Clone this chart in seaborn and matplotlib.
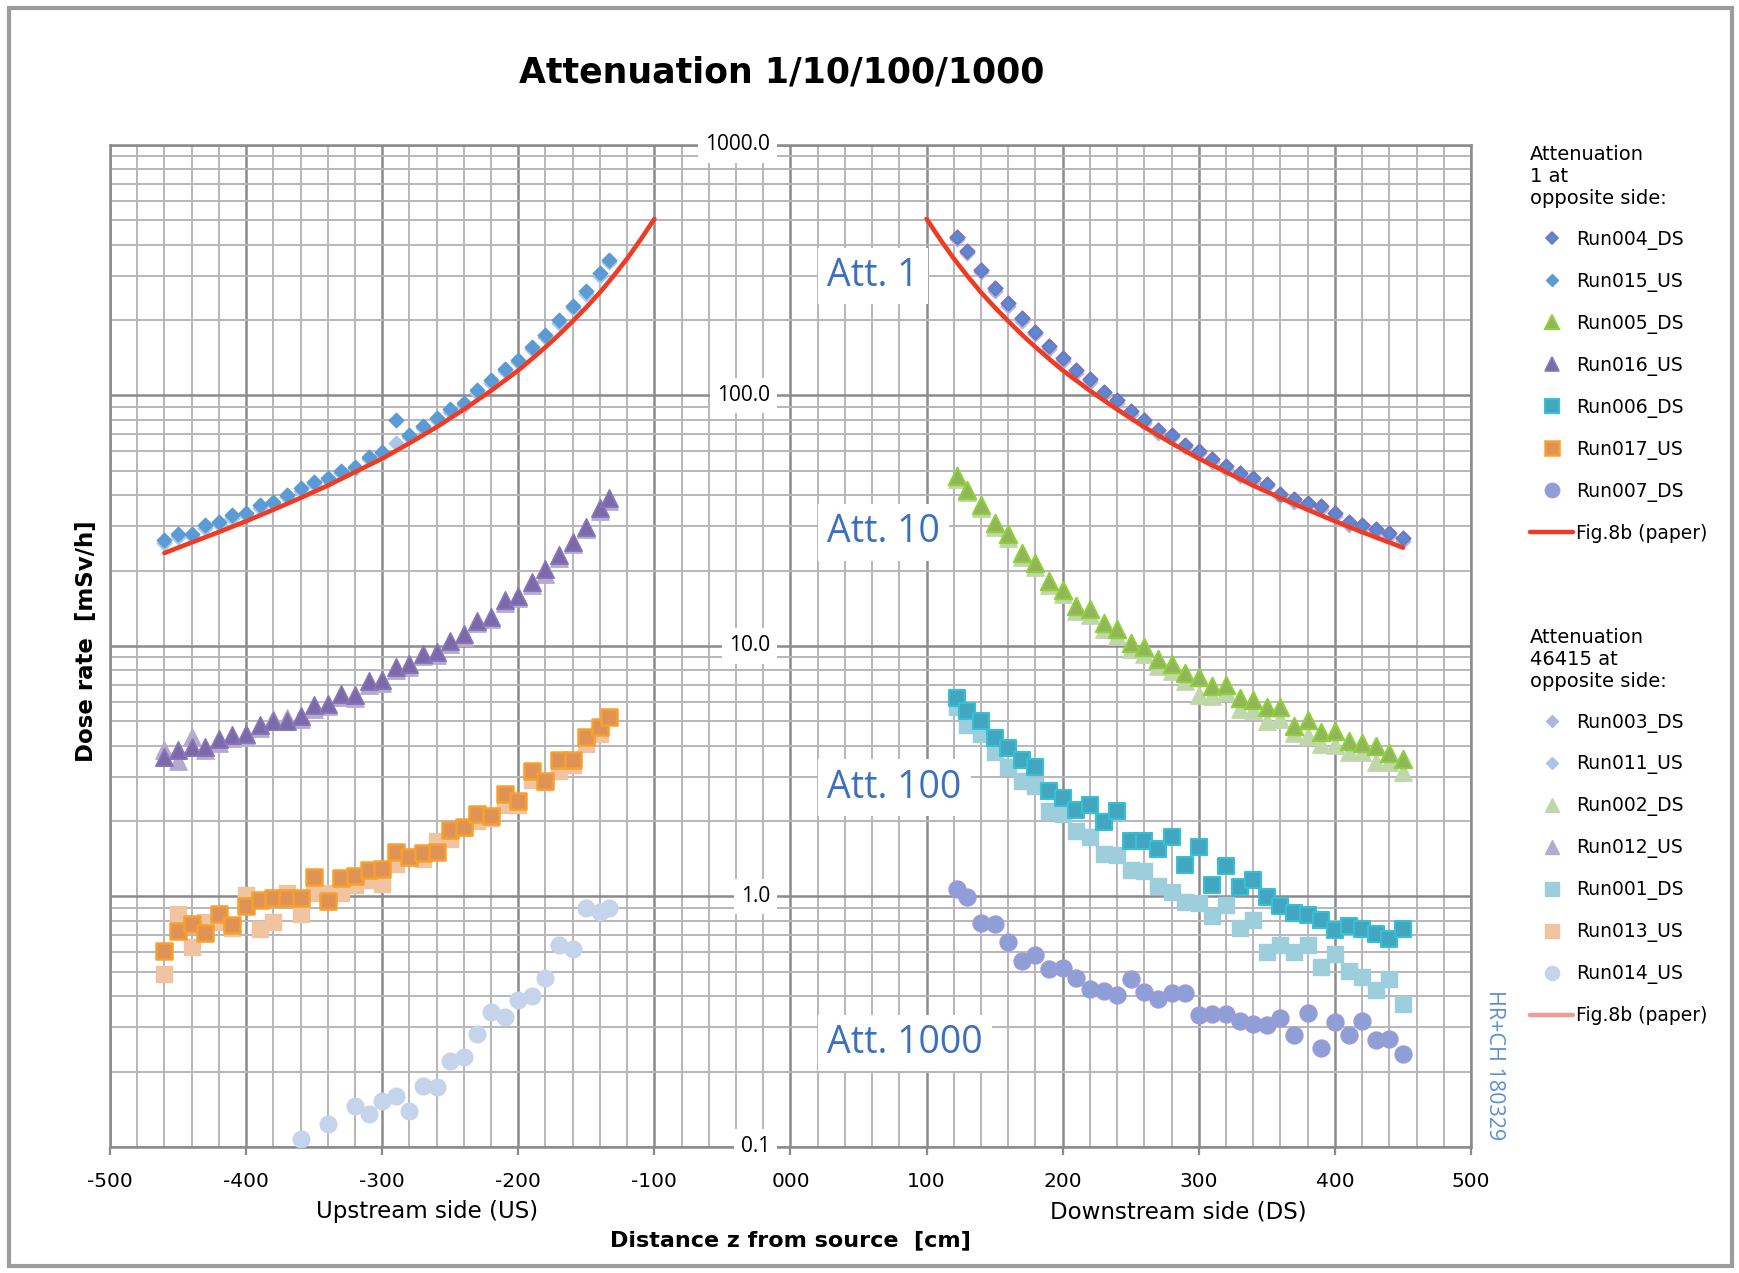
import matplotlib
matplotlib.use("Agg")
import matplotlib.pyplot as plt
import seaborn as sns
from matplotlib.lines import Line2D
from matplotlib.patches import Rectangle
from matplotlib.ticker import FixedLocator, LogLocator, NullFormatter

# ---------------------------------------------------------------- data
# distances from the source [cm]
z_us = [-460, -450, -440, -430, -420, -410, -400, -390, -380, -370, -360, -350,
        -340, -330, -320, -310, -300, -290, -280, -270, -260, -250, -240, -230,
        -220, -210, -200, -190, -180, -170, -160, -150, -140, -133]
z_ds = [122, 130, 140, 150, 160, 170, 180, 190, 200, 210, 220, 230, 240, 250,
        260, 270, 280, 290, 300, 310, 320, 330, 340, 350, 360, 370, 380, 390,
        400, 410, 420, 430, 440, 450]
z_run014 = [-360, -340, -320, -310, -300, -290, -280, -270, -260, -250, -240,
            -230, -220, -210, -200, -190, -180, -170, -160, -150, -140, -133]

# dose rates [mSv/h], attenuation 1 at opposite side
run004_ds = [431, 379, 318, 269, 234, 204, 180, 158, 140.6, 126, 116, 103, 95.5,
             86.5, 80, 72.9, 69.7, 63.5, 60.3, 55.6, 52.3, 48.9, 46.9, 44.5, 40.6,
             38.7, 37.3, 36.1, 33.9, 31.2, 30.5, 29.3, 28.2, 27.0]
run015_us = [26.5, 28.1, 28.1, 30.4, 31.3, 33.3, 33.8, 36.5, 37.7, 40.1, 42.6, 45.3,
             46.7, 50.1, 52.0, 57.0, 59.7, 80.0, 69.7, 75.7, 81.1, 88.1, 93.1, 104.7,
             114.8, 127.4, 139.0, 156.0, 175.0, 199.5, 228.5, 260.6, 306.9, 349.0]
run005_ds = [47.6, 42.1, 36.7, 30.9, 28.0, 23.6, 21.5, 18.2, 16.8, 14.5, 14.0, 12.4,
             11.7, 10.3, 9.87, 8.85, 8.49, 7.77, 7.52, 6.92, 7.0, 6.18, 6.11, 5.69,
             5.72, 4.8, 5.07, 4.52, 4.59, 4.17, 4.1, 3.99, 3.74, 3.53]
run016_us = [3.6, 3.84, 3.96, 3.96, 4.25, 4.42, 4.45, 4.82, 5.0, 5.03, 5.25, 5.8,
             5.86, 6.44, 6.4, 7.23, 7.29, 8.24, 8.48, 9.32, 9.42, 10.5, 11.2, 12.6,
             13.1, 15.3, 15.8, 18.0, 20.2, 23.0, 26.1, 29.9, 35.4, 38.8]
run006_ds = [6.18, 5.51, 5.02, 4.31, 3.93, 3.5, 3.28, 2.63, 2.47, 2.22, 2.31, 1.98,
             2.2, 1.66, 1.66, 1.55, 1.73, 1.34, 1.57, 1.11, 1.32, 1.09, 1.16, 0.994,
             0.912, 0.863, 0.841, 0.803, 0.733, 0.764, 0.745, 0.708, 0.679, 0.74]
run017_us = [0.608, 0.726, 0.778, 0.713, 0.851, 0.766, 0.912, 0.968, 0.989, 0.989,
             0.989, 1.197, 0.962, 1.18, 1.21, 1.28, 1.29, 1.5, 1.44, 1.49, 1.51, 1.84,
             1.89, 2.14, 2.1, 2.56, 2.4, 3.18, 2.9, 3.5, 3.52, 4.35, 4.77, 5.21]
run007_ds = [1.07, 0.993, 0.787, 0.774, 0.659, 0.551, 0.582, 0.515, 0.519, 0.473,
             0.427, 0.42, 0.403, 0.468, 0.415, 0.39, 0.41, 0.41, 0.337, 0.339, 0.339,
             0.319, 0.31, 0.307, 0.326, 0.28, 0.344, 0.248, 0.315, 0.28, 0.317, 0.267,
             0.271, 0.236]

# dose rates [mSv/h], attenuation 46415 at opposite side
run003_ds = [420, 370, 310, 262, 228, 199, 176, 154, 137, 123, 113, 100.5, 93, 84.3,
             78, 71, 68, 62, 58.8, 54.2, 51, 47.7, 45.7, 43.4, 39.6, 37.7, 36.4, 35.2,
             33, 30.4, 29.7, 28.6, 27.5, 26.3]
run011_us = [25.8, 27.3, 27.6, 29.6, 30.6, 32.4, 33.2, 35.6, 36.9, 39.2, 41.6, 44.3,
             45.8, 49.0, 51.0, 55.8, 58.5, 64.5, 68.2, 74.0, 79.5, 86.2, 91.2, 102.5,
             112.4, 124.8, 136.0, 152.8, 171.5, 195.0, 223.5, 255.0, 300.0, 341.0]
run002_ds = [46.5, 41.0, 35.6, 29.8, 27.0, 22.7, 20.6, 17.5, 16.1, 13.8, 13.3, 11.7,
             11.0, 9.7, 9.3, 8.3, 7.95, 7.25, 6.4, 6.3, 6.55, 5.6, 5.55, 5.0, 5.1, 4.5,
             4.37, 4.05, 4.03, 3.78, 3.77, 3.43, 3.45, 3.13]
run012_us = [3.84, 3.48, 4.34, 3.85, 4.1, 4.3, 4.4, 4.7, 5.1, 5.15, 5.1, 5.6, 5.75,
             6.25, 6.2, 7.0, 7.1, 8.0, 8.25, 9.1, 9.2, 10.2, 10.9, 12.3, 12.8, 14.8,
             15.5, 17.5, 19.4, 22.4, 25.5, 29.2, 34.6, 38.0]
run001_ds = [5.69, 4.83, 4.45, 3.78, 3.28, 2.9, 2.77, 2.2, 2.14, 1.82, 1.72, 1.48,
             1.47, 1.28, 1.26, 1.1, 1.04, 0.953, 0.942, 0.835, 0.921, 0.75, 0.808,
             0.601, 0.642, 0.601, 0.642, 0.523, 0.592, 0.502, 0.478, 0.424, 0.468, 0.372]
run013_us = [0.49, 0.85, 0.63, 0.79, 0.79, 0.75, 1.01, 0.74, 0.79, 1.03, 0.85, 1.03,
             1.03, 1.03, 1.11, 1.16, 1.12, 1.35, 1.44, 1.41, 1.66, 1.7, 1.87, 2.0, 2.05,
             2.32, 2.32, 2.92, 2.87, 3.18, 3.35, 4.07, 4.45, 5.2]
run014_us = [0.108, 0.124, 0.146, 0.135, 0.153, 0.16, 0.139, 0.175, 0.173, 0.221,
             0.229, 0.282, 0.347, 0.329, 0.385, 0.402, 0.472, 0.641, 0.619, 0.897,
             0.866, 0.897]

# Fig. 8b (paper) reference curve
paper_us_z = [-460, -440, -420, -400, -380, -360, -340, -320, -300, -280, -260, -240,
              -220, -200, -190, -180, -170, -160, -150, -140, -130, -120, -110, -100]
paper_us_y = [23.5, 25.9, 28.5, 31.5, 35, 39, 43.7, 49.5, 56, 64.5, 74.8, 88, 104.5,
              126, 140, 156, 175, 198, 225, 258, 300, 352, 420, 507]
paper_ds_z = [100, 110, 120, 130, 140, 150, 160, 170, 180, 190, 200, 220, 240, 260,
              280, 300, 320, 340, 360, 380, 400, 420, 440, 450]
paper_ds_y = [507, 420, 352, 300, 258, 225, 198, 175, 156, 140, 126, 104.5, 88, 74.8,
              64.5, 56, 49.5, 43.7, 39, 35, 31.5, 28.5, 25.9, 24.7]

# axis labels
x_ticks = [-500, -400, -300, -200, -100, 0, 100, 200, 300, 400, 500]
x_tick_labels = ["-500", "-400", "-300", "-200", "-100", "000", "100", "200", "300",
                 "400", "500"]
y_ticks = [1000, 100, 10, 1, 0.1]
y_tick_labels = ["1000.0", "100.0", "10.0", "1.0", "0.1"]
att_labels = ["Att. 1", "Att. 10", "Att. 100", "Att. 1000"]
att_levels = [300, 28.4, 2.72, 0.26]

# ---------------------------------------------------------------- style
sns.set_theme(style="white")
plt.rcParams["font.family"] = ["DejaVu Sans"]
plt.rcParams["text.color"] = "black"
plt.rcParams["legend.labelcolor"] = "black"

GRID_MAJOR = "#8b8b8f"
GRID_MINOR = "#b7b7bb"
RED = "#ee3b24"
RED_LIGHT = "#f39b90"
BLUE_TXT = "#3a70bd"

fig = plt.figure(figsize=(17.4, 12.73), dpi=100)
fig.patch.set_facecolor("white")
ax = fig.add_axes([0.0632, 0.0990, 0.7822, 0.7871])
ax.set_facecolor("white")

# series: (z, values, marker, size[pt], face, edge, edge width, label)
light = [
    (z_ds, run003_ds, "D", 7.4, "#adb7de", "#adb7de", 1.0, "Run003_DS"),
    (z_us, run011_us, "D", 7.4, "#a8c6ea", "#a8c6ea", 1.0, "Run011_US"),
    (z_ds, run002_ds, "^", 12.5, "#c2d6ac", "#c2d6ac", 1.0, "Run002_DS"),
    (z_us, run012_us, "^", 12.5, "#b6aad2", "#b6aad2", 1.0, "Run012_US"),
    (z_ds, run001_ds, "s", 11.5, "#9ccfdb", "#9ccfdb", 1.0, "Run001_DS"),
    (z_us, run013_us, "s", 11.5, "#f1c4a1", "#f1c4a1", 1.0, "Run013_US"),
    (z_run014, run014_us, "o", 12.0, "#c5d4ea", "#c5d4ea", 1.0, "Run014_US"),
]
dark = [
    (z_ds, run004_ds, "D", 7.4, "#5b88d0", "#7a72b8", 1.2, "Run004_DS"),
    (z_us, run015_us, "D", 7.4, "#5b9bd5", "#5b9bd5", 1.0, "Run015_US"),
    (z_ds, run005_ds, "^", 12.5, "#92b45a", "#8dd13b", 1.5, "Run005_DS"),
    (z_us, run016_us, "^", 12.5, "#7a6aac", "#8a78b6", 1.2, "Run016_US"),
    (z_ds, run006_ds, "s", 11.5, "#43a6c0", "#36c0d6", 1.5, "Run006_DS"),
    (z_us, run017_us, "s", 11.5, "#df9255", "#f7a02c", 1.8, "Run017_US"),
    (z_ds, run007_ds, "o", 12.0, "#8d9fd6", "#9d9ad8", 1.2, "Run007_DS"),
]

for z, v, mk, ms, fc, ec, lw, lab in light:
    sns.scatterplot(x=z, y=v, marker=mk, s=ms ** 2, color=fc, edgecolor=ec,
                    linewidth=lw, ax=ax, legend=False, zorder=3)
for z, v, mk, ms, fc, ec, lw, lab in dark:
    sns.scatterplot(x=z, y=v, marker=mk, s=ms ** 2, color=fc, edgecolor=ec,
                    linewidth=lw, ax=ax, legend=False, zorder=4)

for pz, py in [(paper_us_z, paper_us_y), (paper_ds_z, paper_ds_y)]:
    sns.lineplot(x=pz, y=py, color=RED_LIGHT, linewidth=3.0, ax=ax,
                 estimator=None, sort=True, zorder=5)
    sns.lineplot(x=pz, y=py, color=RED, linewidth=3.2, ax=ax,
                 estimator=None, sort=True, zorder=6)

# ---------------------------------------------------------------- axes
ax.set_yscale("log")
ax.set_xlim(-500, 500)
ax.set_ylim(0.1, 1000)

ax.xaxis.set_major_locator(FixedLocator(x_ticks))
ax.xaxis.set_minor_locator(FixedLocator(list(range(-500, 501, 20))))
ax.set_xticklabels(x_tick_labels)
ax.yaxis.set_major_locator(LogLocator(base=10, numticks=10))
ax.yaxis.set_minor_locator(LogLocator(base=10, subs=[2, 3, 4, 5, 6, 7, 8, 9], numticks=50))
ax.yaxis.set_minor_formatter(NullFormatter())

ax.grid(which="major", color=GRID_MAJOR, linewidth=1.8, zorder=0)
ax.grid(which="minor", color=GRID_MINOR, linewidth=1.4, zorder=0)
ax.set_axisbelow(True)

ax.tick_params(axis="x", which="major", direction="out", length=6, width=1.6,
               color=GRID_MAJOR, bottom=True, pad=12, labelsize=14.5,
               labelcolor="black")
ax.tick_params(axis="x", which="minor", bottom=False)
ax.tick_params(axis="y", which="both", left=False, labelleft=False)
for sp in ax.spines.values():
    sp.set_color(GRID_MAJOR)
    sp.set_linewidth(1.8)

ax.set_xlabel("")
ax.set_ylabel("")

# dose-rate scale written in the middle of the chart
for yv, lab in zip(y_ticks, y_tick_labels):
    ax.text(-15, yv, lab, ha="right", va="center", fontsize=15,
            family=["Open Sans", "DejaVu Sans"], color="black", zorder=7,
            bbox=dict(boxstyle="square,pad=0.35", facecolor="white", edgecolor="none"))

for lab, yv in zip(att_labels, att_levels):
    ax.text(27, yv, lab, ha="left", va="center", fontsize=27,
            family=["Open Sans", "DejaVu Sans"], color=BLUE_TXT, zorder=7,
            bbox=dict(boxstyle="square,pad=0.25", facecolor="white", edgecolor="none"))

# ---------------------------------------------------------------- texts
fig.text(0.449, 0.9427, "Attenuation 1/10/100/1000", ha="center", va="center",
         fontsize=25, fontweight="bold", color="black")
fig.text(0.0498, 0.4965, "Dose rate  [mSv/h]", rotation=90, ha="center",
         va="center", fontsize=16.5, fontweight="bold", color="black")
fig.text(0.454, 0.026, "Distance z from source  [cm]", ha="center", va="center",
         fontsize=16, fontweight="bold", color="black")
fig.text(0.2455, 0.048, "Upstream side (US)", ha="center", va="center",
         fontsize=16.5, color="black")
fig.text(0.677, 0.048, "Downstream side (DS)", ha="center", va="center",
         fontsize=16.5, color="black")
fig.text(0.859, 0.1634, "HR+CH 180329", rotation=270, ha="center", va="center",
         fontsize=15.5, color="#5b8fd0", family=["Open Sans", "DejaVu Sans"])

# ---------------------------------------------------------------- legends
def handle(mk, ms, fc, ec, lw):
    return Line2D([], [], linestyle="none", marker=mk, markersize=ms * 0.85,
                  markerfacecolor=fc, markeredgecolor=ec, markeredgewidth=lw)

h1 = [handle(mk, ms, fc, ec, lw) for _, _, mk, ms, fc, ec, lw, _ in dark]
l1 = [lab for *_, lab in dark]
h1.append(Line2D([], [], color=RED, linewidth=3.2))
l1.append("Fig.8b (paper)")

h2 = [handle(mk, ms, fc, ec, lw) for _, _, mk, ms, fc, ec, lw, _ in light]
l2 = [lab for *_, lab in light]
h2.append(Line2D([], [], color=RED_LIGHT, linewidth=3.2))
l2.append("Fig.8b (paper)")

common = dict(loc="upper left", frameon=False, fontsize=13.5, title_fontsize=14,
              alignment="left", handlelength=2.3, handletextpad=0.15,
              labelspacing=1.17, borderpad=0.0, borderaxespad=0.0)
fig.legend(h1, l1, title="Attenuation\n1 at\nopposite side:",
           bbox_to_anchor=(0.8795, 0.886), **common)
fig.legend(h2, l2, title="Attenuation\n46415 at\nopposite side:",
           bbox_to_anchor=(0.8795, 0.507), **common)

# outer frame
fig.patches.append(Rectangle((0.0052, 0.0055), 0.9902, 0.988, transform=fig.transFigure,
                             fill=False, edgecolor="#9c9c9c", linewidth=3))

fig.savefig("out.png", dpi=100, facecolor="white")
